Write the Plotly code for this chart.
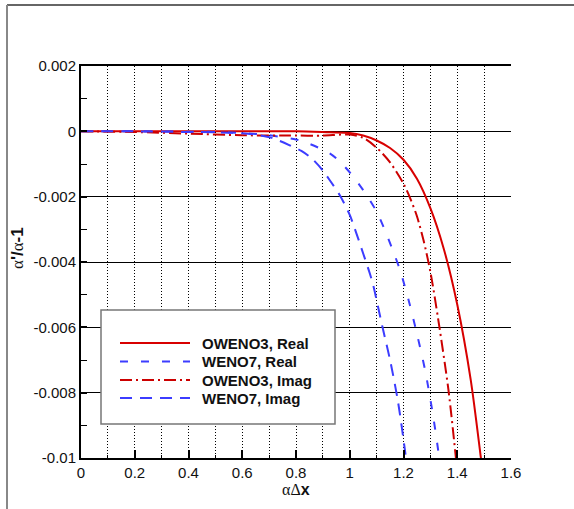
import plotly.graph_objects as go

# ---- data ----
x_oweno3_real = [0.0, 0.2, 0.4, 0.6, 0.8, 0.925, 1.0, 1.05, 1.1, 1.15, 1.2, 1.25, 1.3, 1.35, 1.4, 1.45, 1.488, 1.5]
y_oweno3_real = [0.0, 0.0, 0.0, 0.0, 0.0, -0.00003, -0.00005, -0.00013, -0.00028, -0.00051, -0.00087, -0.00145, -0.00235, -0.0036, -0.0053, -0.0076, -0.01, -0.0108]

x_weno7_real = [0.0, 0.2, 0.4, 0.5, 0.6, 0.7, 0.8, 0.846, 0.925, 0.9625, 1.0125, 1.0625, 1.1, 1.131, 1.1625, 1.1875, 1.22, 1.25, 1.28, 1.31, 1.333, 1.345]
y_weno7_real = [0.0, 0.0, -0.00001, -0.00002, -0.00005, -0.00012, -0.00025, -0.00037, -0.00067, -0.00092, -0.00138, -0.00195, -0.00246, -0.00303, -0.00369, -0.00426, -0.0052, -0.0062, -0.0073, -0.0087, -0.01, -0.0108]

x_oweno3_imag = [0.0, 0.2, 0.4, 0.6, 0.8, 0.9, 1.0, 1.05, 1.1, 1.15, 1.2, 1.225, 1.25, 1.275, 1.3, 1.33, 1.367, 1.395, 1.405]
y_oweno3_imag = [0.0, -0.00002, -0.00007, -0.00012, -0.00013, -0.00013, -0.0001, -0.0002, -0.0005, -0.00095, -0.0016, -0.00205, -0.0026, -0.00335, -0.0043, -0.0058, -0.0079, -0.01, -0.0108]

x_weno7_imag = [0.0, 0.2, 0.4, 0.5, 0.6, 0.65, 0.71, 0.78, 0.82, 0.86, 0.9, 0.925, 0.9625, 1.0, 1.025, 1.05, 1.075, 1.0875, 1.122, 1.15, 1.18, 1.206, 1.215]
y_weno7_imag = [0.0, 0.0, -0.00002, -0.00003, -0.00006, -0.0001, -0.0002, -0.00044, -0.0006, -0.00084, -0.0012, -0.00149, -0.00195, -0.00256, -0.00313, -0.00374, -0.00436, -0.00472, -0.006, -0.007, -0.0083, -0.0098, -0.0104]

legend_labels = ["OWENO3, Real", "WENO7, Real", "OWENO3, Imag", "WENO7, Imag"]

x_tickvals = [0, 0.2, 0.4, 0.6, 0.8, 1.0, 1.2, 1.4, 1.6]
x_ticktext = ["0", "0.2", "0.4", "0.6", "0.8", "1", "1.2", "1.4", "1.6"]
y_tickvals = [0.002, 0, -0.002, -0.004, -0.006, -0.008, -0.01]
y_ticktext = ["0.002", "0", "-0.002", "-0.004", "-0.006", "-0.008", "-0.01"]

# ---- styles ----
RED = "#d80000"
DRED = "#cc0000"
BLUE = "#3c3cff"
styles = [
    dict(color=RED, width=2, dash="solid"),
    dict(color=BLUE, width=2, dash="8px,13px"),
    dict(color=DRED, width=2, dash="12px,4px,2px,4px"),
    dict(color=BLUE, width=2, dash="12px,8px"),
]
series = [
    (x_oweno3_real, y_oweno3_real),
    (x_weno7_real, y_weno7_real),
    (x_oweno3_imag, y_oweno3_imag),
    (x_weno7_imag, y_weno7_imag),
]

FONT = "Liberation Sans, Arial, sans-serif"

fig = go.Figure()
for (xs, ys), st, name in zip(series, styles, legend_labels):
    fig.add_trace(go.Scatter(x=xs, y=ys, mode="lines", name=name,
                             line=dict(color=st["color"], width=st["width"], dash=st["dash"],
                                       shape="spline", smoothing=0.8),
                             showlegend=False))

W, H = 574, 509
L, R, T, B = 81, 63, 66, 51
pw, ph = W - L - R, H - T - B

def px2x(px):
    return (px - L) / pw

def px2y(py):
    return (H - B - py) / ph

shapes = []
# outer frame (top and left)
shapes.append(dict(type="line", xref="paper", yref="paper", x0=px2x(7), x1=px2x(W + 2),
                   y0=px2y(5), y1=px2y(5), line=dict(color="#333", width=1.5)))
shapes.append(dict(type="line", xref="paper", yref="paper", x0=px2x(7), x1=px2x(7),
                   y0=px2y(5), y1=px2y(H + 2), line=dict(color="#888", width=2)))
# legend box
shapes.append(dict(type="rect", xref="paper", yref="paper", x0=px2x(101), x1=px2x(335),
                   y0=px2y(424), y1=px2y(310), line=dict(color="#777", width=1.5),
                   fillcolor="white", layer="above"))
entry_y = [343, 361.5, 380, 398]
annotations = []
for st, name, ey in zip(styles, legend_labels, entry_y):
    shapes.append(dict(type="line", xref="paper", yref="paper", x0=px2x(120), x1=px2x(190),
                       y0=px2y(ey), y1=px2y(ey), layer="above",
                       line=dict(color=st["color"], width=2, dash=st["dash"])))
    annotations.append(dict(xref="paper", yref="paper", x=px2x(200), y=px2y(ey),
                            text="<b>" + name + "</b>", showarrow=False, xanchor="left",
                            yanchor="middle", font=dict(family=FONT, size=15, color="#111")))

# axis titles
annotations.append(dict(xref="paper", yref="paper", x=px2x(296), y=px2y(489),
                        text="<span style='font-family:Liberation Serif'>αΔ</span><b>x</b>",
                        showarrow=False, xanchor="center", yanchor="middle",
                        font=dict(family=FONT, size=16, color="#111")))
annotations.append(dict(xref="paper", yref="paper", x=px2x(17), y=px2y(248),
                        text="<span style='font-family:Liberation Serif'>α</span><b>'/</b><span style='font-family:Liberation Serif'>α</span><b>-1</b>",
                        showarrow=False, xanchor="center", yanchor="middle", textangle=-90,
                        font=dict(family=FONT, size=17, color="#111")))

fig.update_layout(
    width=W, height=H,
    margin=dict(l=L, r=R, t=T, b=B, pad=0),
    paper_bgcolor="white", plot_bgcolor="white",
    font=dict(family=FONT, size=15, color="#111"),
    shapes=shapes, annotations=annotations,
    showlegend=False,
)
fig.update_xaxes(
    range=[0, 1.6], tickmode="array", tickvals=x_tickvals, ticktext=x_ticktext,
    ticks="inside", ticklen=8, tickwidth=2, tickcolor="black",
    showline=True, linecolor="black", linewidth=2, mirror=True,
    showgrid=True, gridcolor="black", gridwidth=1, griddash="1px,2px",
    zeroline=False,
    minor=dict(dtick=0.1, tick0=0, ticks="inside", ticklen=3, tickwidth=1, tickcolor="black",
               showgrid=True, gridcolor="black", gridwidth=1, griddash="1px,2px"),
    tickfont=dict(family=FONT, size=15, color="#111"),
)
fig.update_yaxes(
    range=[-0.01, 0.002], tickmode="array", tickvals=y_tickvals, ticktext=y_ticktext,
    ticks="inside", ticklen=6, tickwidth=2, tickcolor="black",
    showline=True, linecolor="black", linewidth=2, mirror=False,
    showgrid=True, gridcolor="black", gridwidth=1,
    zeroline=False,
    minor=dict(dtick=0.001, tick0=0, ticks="inside", ticklen=6, tickwidth=1, tickcolor="black",
               showgrid=False),
    tickfont=dict(family=FONT, size=15, color="#111"),
)

fig.write_html("out.html")
